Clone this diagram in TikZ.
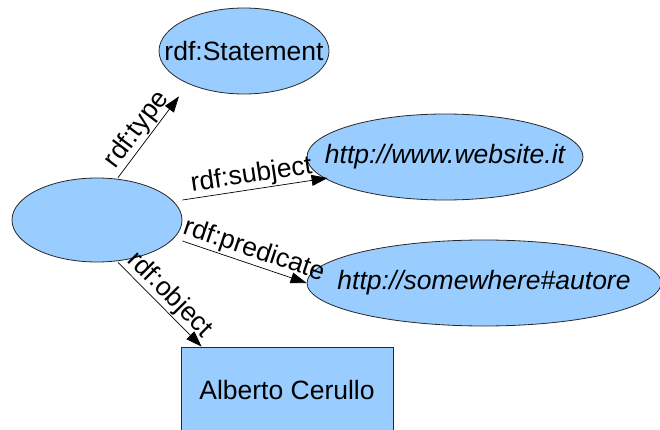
\documentclass[tikz,border=0pt]{standalone}
\usepackage{fontspec}
\setmainfont{Liberation Sans}
\usetikzlibrary{shapes.geometric,arrows.meta}

\definecolor{nodeblue}{RGB}{153,204,255}
\definecolor{edgegray}{RGB}{40,40,40}

% zero-width box so the ellipse keeps its given size around a wide text
\newcommand{\tightlabel}[1]{\makebox[0pt]{#1}}

\tikzset{
  resource/.style={ellipse, draw=edgegray, line width=0.8pt, fill=nodeblue,
    inner sep=0pt, font=\fontsize{26.5}{30}\selectfont},
  literal/.style={rectangle, draw=edgegray, line width=0.8pt, fill=nodeblue,
    inner sep=0pt, font=\fontsize{26.5}{30}\selectfont},
  prop/.style={draw=black, line width=0.7pt,
    -{Triangle[length=16pt,width=11pt]}},
  proplabel/.style={sloped, above, inner sep=1pt,
    font=\fontsize{26.5}{30}\selectfont}
}

\begin{document}
\begin{tikzpicture}[x=1pt,y=-1pt]
  \useasboundingbox (0,0) rectangle (660,430);
  \clip (0,0) rectangle (660,430);

  % statement node and its four properties
  \node[resource, minimum width=170pt, minimum height=86pt] (stmt) at (244,51) {\tightlabel{rdf:Statement}};
  \node[resource, minimum width=170pt, minimum height=84pt] (blank) at (97,220) {};
  \node[resource, minimum width=276pt, minimum height=86pt] (web) at (445,157) {\tightlabel{\itshape http://www.website.it}};
  \node[resource, minimum width=354pt, minimum height=86pt] (auto) at (484,283) {\tightlabel{\itshape http://somewhere\#autore}};
  \node[literal, minimum width=212pt, minimum height=86pt] (lit) at (287,390) {Alberto Cerullo};

  % reification arcs
  \draw[prop] ([xshift=21pt]blank.north) -- node[proplabel, pos=0.49] {rdf:type}
    ([xshift=-65pt,yshift=-2pt]stmt.south);
  \draw[prop] ([yshift=20pt]blank.east) -- node[proplabel, pos=0.49] {rdf:subject}
    ([xshift=21pt,yshift=-21pt]web.west);
  \draw[prop] ([yshift=-21pt]blank.east) -- node[proplabel, pos=0.54] {rdf:predicate}
    (auto.west);
  \draw[prop] ([xshift=21pt]blank.south) -- node[proplabel, pos=0.5] {rdf:object}
    ([xshift=21pt]lit.north west);
\end{tikzpicture}
\end{document}
